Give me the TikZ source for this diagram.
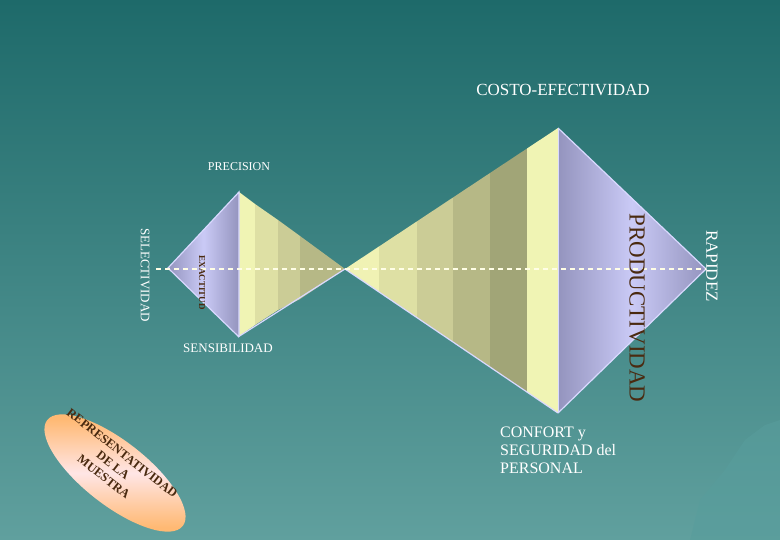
\documentclass[tikz,border=0pt]{standalone}
\usepackage{fontspec}
\setmainfont{Liberation Serif}
\usetikzlibrary{shapes.geometric}
\definecolor{bgtop}{HTML}{1E6A6A}
\definecolor{bgbot}{HTML}{60A09E}
\definecolor{pdark}{HTML}{9494BE}
\definecolor{plight}{HTML}{CACAF6}
\definecolor{brown}{HTML}{4A2A10}
\definecolor{ys1}{HTML}{F0F4B4}
\definecolor{ys2}{HTML}{DEE0A4}
\definecolor{ys3}{HTML}{CBCC96}
\definecolor{ys4}{HTML}{B6B886}
\tikzset{lbl/.style={text=white,font=\fontsize{12}{12}\selectfont,inner sep=0pt},
edge/.style={draw=white!85!blue,line width=1.2pt}}
\begin{document}
\begin{tikzpicture}[x=1pt,y=-1pt]
\shade[top color=bgtop,bottom color=bgbot] (0,0) rectangle (780,540);
\useasboundingbox (0,0) rectangle (780,540);
% mountains
\fill[bgbot!92!teal,opacity=0.6] (690,540) -- (700,500) -- (725,470) -- (745,440) -- (765,425) -- (780,420) -- (780,540) -- cycle;
% small yellow triangle stripes
\fill[ys1] (239,192) -- (255,204) -- (255,325) -- (238,337) -- cycle;
\fill[ys2] (255,204) -- (278,220) -- (278,310) -- (255,325) -- cycle;
\fill[ys3] (278,220) -- (300,236) -- (300,299) -- (278,310) -- cycle;
\fill[ys4] (300,236) -- (345,269) -- (300,299) -- cycle;
% big yellow stripes
\foreach \xa/\xb/\c in {345/379/F0F2B4,379/417/DEE0A4,417/453/CBCC96,453/490/B6B886,490/527/A1A577,527/558/F0F4B4}{
 \definecolor{cc}{HTML}{\c}
 \fill[cc] (\xa,{269-(\xa-345)/213*141}) -- (\xb,{269-(\xb-345)/213*141}) -- (\xb,{269+(\xb-345)/213*144}) -- (\xa,{269+(\xa-345)/213*144}) -- cycle;}
\draw[edge] (345,269) -- (558,413);
\draw[edge] (238,337) -- (345,269);
% purple small diamond
\shade[left color=pdark,right color=pdark,middle color=plight] (168,268) -- (239,192) -- (239,337) -- cycle;
\draw[edge] (239,337) -- (168,268) -- (239,192) -- (239,337);
% purple big
\shade[left color=pdark,right color=pdark,middle color=plight] (558,128) -- (706,269) -- (558,413) -- cycle;
\draw[edge] (558,128) -- (706,269) -- (558,413);
\draw[white!85!blue,line width=0.8pt] (558,128) -- (558,413);
% dashed axis
\coordinate (d1) at (156,269); \coordinate (d2) at (706,269);
\draw[white!90!yellow,line width=1.2pt,dash pattern=on 5pt off 4pt] (d1) -- (d2);
% ellipse
\begin{scope}[shift={(115,473)},rotate=-38]
\shade[top color=orange!55!white,bottom color=orange!55!white,middle color=pink!40!white] (0,0) ellipse (86 and 32);
\end{scope}
\node[text=brown,font=\bfseries\fontsize{12.5}{15}\selectfont,align=center,inner sep=0pt,rotate=-38] (rep) at (113,465) {REPRESENTATIVIDAD\\DE LA\\MUESTRA};
% texts
\node[lbl,font=\fontsize{17}{17}\selectfont] (costo) at (563,90) {COSTO-EFECTIVIDAD};
\node[lbl] (prec) at (239,167) {PRECISION};
\node[lbl,rotate=-90,font=\fontsize{13}{13}\selectfont] (sel) at (145,275) {SELECTIVIDAD};
\node[lbl,rotate=-90,text=brown,font=\bfseries\fontsize{9}{9}\selectfont] (exa) at (202,283) {EXACTITUD};
\node[lbl,font=\fontsize{13}{13}\selectfont] (sens) at (228,348) {SENSIBILIDAD};
\node[lbl,rotate=-90,text=brown,font=\fontsize{23}{23}\selectfont] (prod) at (637,308) {PRODUCTIVIDAD};
\node[lbl,rotate=-90,font=\fontsize{17}{17}\selectfont] (rap) at (712,266) {RAPIDEZ};
\node[lbl,font=\fontsize{16}{18}\selectfont,align=left,anchor=north west] (conf) at (500,427) {CONFORT y\\SEGURIDAD del\\PERSONAL};
\end{tikzpicture}
\end{document}
